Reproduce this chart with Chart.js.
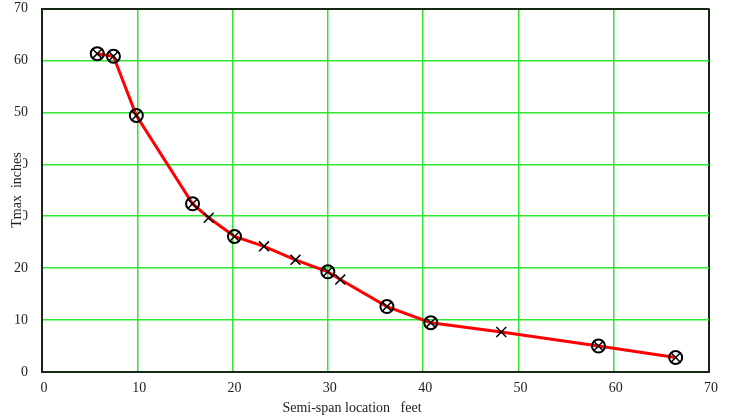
<!DOCTYPE html>
<html>
<head>
<meta charset="utf-8">
<script src="https://cdn.jsdelivr.net/npm/chart.js@4"></script>
<style>
  body { margin: 0; background: #fff; }
  #wrap { width: 731px; height: 420px; }
</style>
</head>
<body>
<div id="wrap"><canvas id="myChart" width="731" height="420"></canvas></div>
<script>
// semi-span location (feet) and Tmax (inches) along the red curve
const spanFt = [5.8, 7.5, 9.9, 15.8, 17.5, 20.2, 23.3, 26.6, 30.0, 31.3, 36.2, 40.8, 48.2, 58.4, 66.5];
const tmaxIn = [61.3, 60.8, 49.4, 32.4, 29.7, 26.1, 24.2, 21.6, 19.3, 17.8, 12.6, 9.5, 7.7, 5.0, 2.8];

// circled stations
const circleFt = [5.8, 7.5, 9.9, 15.8, 20.2, 30.0, 36.2, 40.8, 58.4, 66.5];
const circleIn = [61.3, 60.8, 49.4, 32.4, 26.1, 19.3, 12.6, 9.5, 5.0, 2.8];

const xTicks = [0, 10, 20, 30, 40, 50, 60, 70];
const yTicks = [0, 10, 20, 30, 40, 50, 60, 70];

const xTitle = "Semi-span location   feet";
const yTitle = "Tmax  inches";

const toPoints = (xs, ys) => xs.map((x, i) => ({ x: x, y: ys[i] }));

const serif = "'Liberation Serif', 'DejaVu Serif', serif";
const gridGreen = "#2ee82e";
const frameColor = "#142814";

// grid colour: frame lines at 0 and 70 are dark
const gridColor = (ctx) => {
  if (ctx.tick && (ctx.tick.value === 0 || ctx.tick.value === 70)) return frameColor;
  return gridGreen;
};
const gridWidth = (ctx) => {
  if (ctx.tick && (ctx.tick.value === 0 || ctx.tick.value === 70)) return 2;
  return 1.5;
};

// axis titles drawn by hand (y title sits over the tick labels on a white box)
const axisTitles = {
  id: "axisTitles",
  afterDraw(chart) {
    const c = chart.ctx;
    c.save();
    c.font = "14px " + serif;
    c.fillStyle = "#222";
    c.textAlign = "center";
    c.textBaseline = "middle";
    c.fillText(xTitle, 352, 408);

    c.translate(17, 190);
    c.rotate(-Math.PI / 2);
    let w = c.measureText(yTitle).width;
    c.fillStyle = "#fff";
    c.fillRect(-w / 2 - 2, -6, w + 4, 12);
    c.fillStyle = "#222";
    c.fillText(yTitle, 0, 0);
    c.restore();
  },
};

const noPad = (axis) => {
  axis.paddingTop = 0;
  axis.paddingBottom = 0;
  axis.paddingLeft = 0;
  axis.paddingRight = 0;
};

const ctx = document.getElementById("myChart").getContext("2d");
const myChart = new Chart(ctx, {
  type: "scatter",
  data: {
    datasets: [
      {
        label: "stations",
        data: toPoints(circleFt, circleIn),
        showLine: false,
        pointStyle: "circle",
        pointRadius: 6.5,
        pointBorderWidth: 2,
        pointBorderColor: "#000",
        pointBackgroundColor: "rgba(0,0,0,0)",
      },
      {
        label: "Tmax",
        data: toPoints(spanFt, tmaxIn),
        showLine: true,
        borderColor: "#ff0000",
        borderWidth: 3,
        tension: 0,
        pointStyle: "crossRot",
        pointRadius: 7,
        pointBorderWidth: 1.5,
        pointBorderColor: "#000",
        pointBackgroundColor: "#000",
      },
    ],
  },
  options: {
    responsive: false,
    animation: false,
    devicePixelRatio: 1,
    layout: { padding: { top: 7, right: 22, left: 0, bottom: 0 } },
    plugins: {
      legend: { display: false },
      tooltip: { enabled: false },
    },
    scales: {
      x: {
        type: "linear",
        min: 0,
        max: 70,
        afterBuildTicks: (axis) => { axis.ticks = xTicks.map((v) => ({ value: v })); },
        afterFit: (axis) => { axis.height = 48; noPad(axis); },
        grid: { color: gridColor, lineWidth: gridWidth, drawTicks: false },
        border: { display: true, color: frameColor, width: 2 },
        ticks: { color: "#222", padding: 8, labelOffset: 2, font: { family: serif, size: 14 } },
      },
      y: {
        type: "linear",
        min: 0,
        max: 70,
        afterBuildTicks: (axis) => { axis.ticks = yTicks.map((v) => ({ value: v })); },
        afterFit: (axis) => { axis.width = 42; noPad(axis); },
        grid: { color: gridColor, lineWidth: gridWidth, drawTicks: false },
        border: { display: true, color: frameColor, width: 2 },
        ticks: { color: "#222", padding: 14, font: { family: serif, size: 14 } },
      },
    },
  },
  plugins: [axisTitles],
});
</script>
</body>
</html>
